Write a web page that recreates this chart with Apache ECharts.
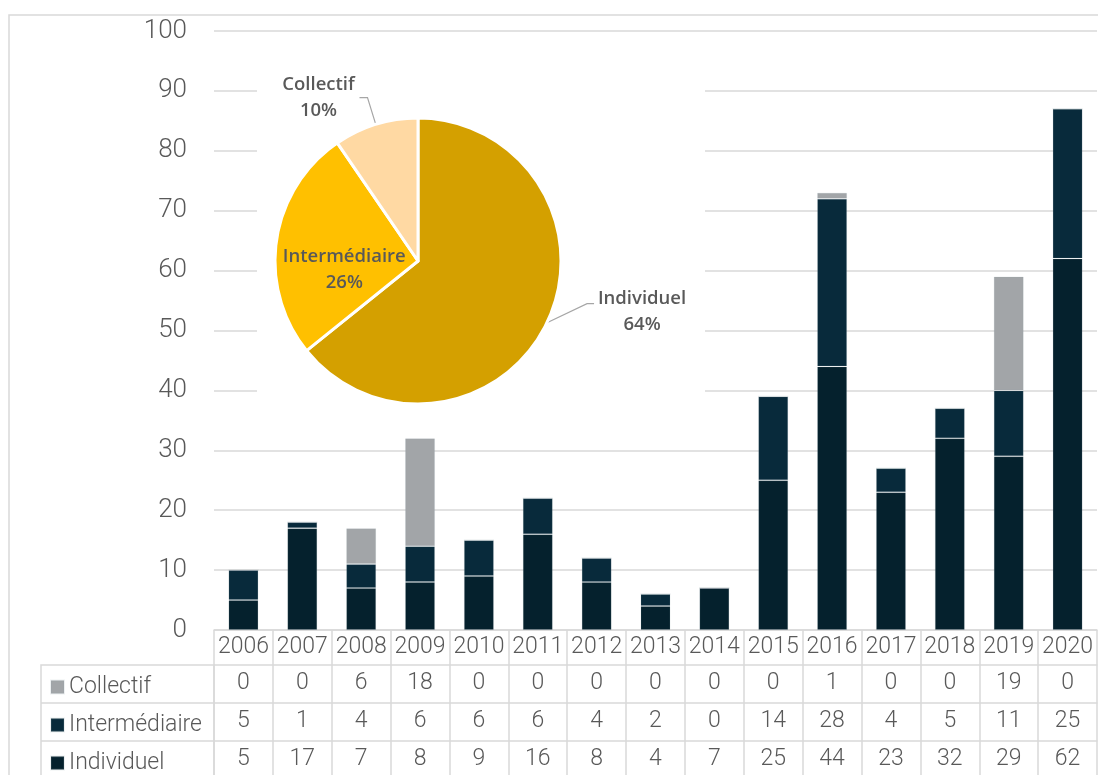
<!DOCTYPE html>
<html>
<head>
<meta charset="utf-8">
<script src="https://cdn.jsdelivr.net/npm/echarts@6/dist/echarts.min.js"></script>
<style>
html,body{margin:0;padding:0;background:#fff;}
#c{width:1098px;height:775px;}
</style>
</head>
<body>
<div id="c"></div>
<script>
const years = ['2006','2007','2008','2009','2010','2011','2012','2013','2014','2015','2016','2017','2018','2019','2020'];
const collectif = [0,0,6,18,0,0,0,0,0,0,1,0,0,19,0];
const intermediaire = [5,1,4,6,6,6,4,2,0,14,28,4,5,11,25];
const individuel = [5,17,7,8,9,16,8,4,7,25,44,23,32,29,62];
const yTicks = [0,10,20,30,40,50,60,70,80,90,100];

const sum = a => a.reduce((s,v)=>s+v,0);

const COL_IND = '#05212d';
const COL_INT = '#082a3b';
const COL_COL = '#a2a5a8';
const TXT = '#595959';
const LINE = '#d9d9d9';
const FONT = 'Roboto';

const chart = echarts.init(document.getElementById('c'));

function rowAxis(arr, offset){
  return {
    type:'category', data: years, gridIndex:0, position:'bottom', offset: offset,
    axisLine:{show:true, lineStyle:{color:LINE, width:1.5}},
    axisTick:{show:false},
    axisLabel:{interval:0, margin:7, fontSize:23, fontFamily:FONT, fontWeight:300, color:TXT,
      formatter:(v,i)=>String(arr[i])},
    splitLine:{show:false}
  };
}

function legendRow(name, top){
  return {
    data:[name], left:50, top:top, padding:0, orient:'horizontal',
    icon:'rect', itemWidth:13, itemHeight:13, itemGap:0,
    selectedMode:false,
    textStyle:{fontSize:23, fontFamily:FONT, fontWeight:300, color:TXT, lineHeight:38}
  };
}

const barStyle = c => ({color:c, borderColor:'rgba(140,160,170,0.16)', borderWidth:1});

const pieRich = w => ({a:{fontFamily:'Open Sans', fontSize:18.5, fontWeight:600, color:TXT, lineHeight:26, align:'center', width:w}});

const option = {
  animation:false,
  backgroundColor:'#fff',
  grid:{left:214, right:1, top:31, bottom:145, containLabel:false},
  legend:[
    legendRow('Collectif', 668),
    legendRow('Intermédiaire', 706),
    legendRow('Individuel', 744)
  ],
  xAxis:[
    {
      type:'category', data:years, gridIndex:0, position:'bottom',
      axisLine:{show:true, lineStyle:{color:LINE, width:1.5}},
      axisTick:{show:true, interval:0, length:150, lineStyle:{color:LINE, width:1.5}},
      axisLabel:{interval:0, margin:6, fontSize:23, fontFamily:FONT, fontWeight:300, color:TXT},
      splitLine:{show:false}
    },
    rowAxis(collectif, 35),
    rowAxis(intermediaire, 73),
    rowAxis(individuel, 111)
  ],
  yAxis:{
    type:'value', min:yTicks[0], max:yTicks[yTicks.length-1], interval:10,
    axisLine:{show:false}, axisTick:{show:false},
    axisLabel:{margin:27, fontSize:26, fontFamily:FONT, fontWeight:300, color:TXT},
    splitLine:{lineStyle:{color:LINE, width:1.5}}
  },
  graphic:[
    {type:'rect', z:1, shape:{x:9, y:15, width:1100, height:775}, style:{fill:'none', stroke:LINE, lineWidth:1.5}},
    {type:'rect', z:1, shape:{x:257, y:60, width:448, height:360}, style:{fill:'#fff'}},
    {type:'rect', z:1, shape:{x:41, y:665, width:173, height:130}, style:{fill:'none', stroke:LINE, lineWidth:1.5}},
    {type:'line', z:1, shape:{x1:41, y1:703, x2:214, y2:703}, style:{stroke:LINE, lineWidth:1.5}},
    {type:'line', z:1, shape:{x1:41, y1:741, x2:214, y2:741}, style:{stroke:LINE, lineWidth:1.5}}
  ],
  series:[
    {name:'Individuel', type:'bar', stack:'a', barWidth:30, data:individuel, itemStyle:barStyle(COL_IND), z:2},
    {name:'Intermédiaire', type:'bar', stack:'a', barWidth:30, data:intermediaire, itemStyle:barStyle(COL_INT), z:2},
    {name:'Collectif', type:'bar', stack:'a', barWidth:30, data:collectif, itemStyle:barStyle(COL_COL), z:2},
    {
      name:'Répartition', type:'pie', z:5,
      center:[418,261], radius:[0,143], startAngle:90, clockwise:true,
      avoidLabelOverlap:false,
      itemStyle:{borderColor:'#fff', borderWidth:3},
      label:{
        show:true, position:'outside', distanceToLabelLine:3,
        formatter:p=>'{a|'+p.name+'}\n{a|'+Math.round(p.percent)+'%}',
        rich:pieRich(90)
      },
      labelLine:{show:true, smooth:false, lineStyle:{color:'#a6a6a6', width:1.2}},
      labelLayout:function(params){
        if(params.dataIndex===0 && params.labelLinePoints){
          const p = params.labelLinePoints;
          const end = [p[2][0], p[2][1]-32];
          return {dy:-24, labelLinePoints:[p[0], [end[0]-7, end[1]], end]};
        }
        return {};
      },
      data:[
        {name:'Individuel', value:sum(individuel), itemStyle:{color:'#d4a000'},
          labelLine:{length:30, length2:20}},
        {name:'Intermédiaire', value:sum(intermediaire), itemStyle:{color:'#ffc000'},
          label:{position:'inside', padding:[40,0,0,0], rich:pieRich(140)}},
        {name:'Collectif', value:sum(collectif), itemStyle:{color:'#ffd9a3'},
          label:{rich:pieRich(76)}, labelLine:{length:28, length2:8}}
      ]
    }
  ]
};
chart.setOption(option);
</script>
</body>
</html>
